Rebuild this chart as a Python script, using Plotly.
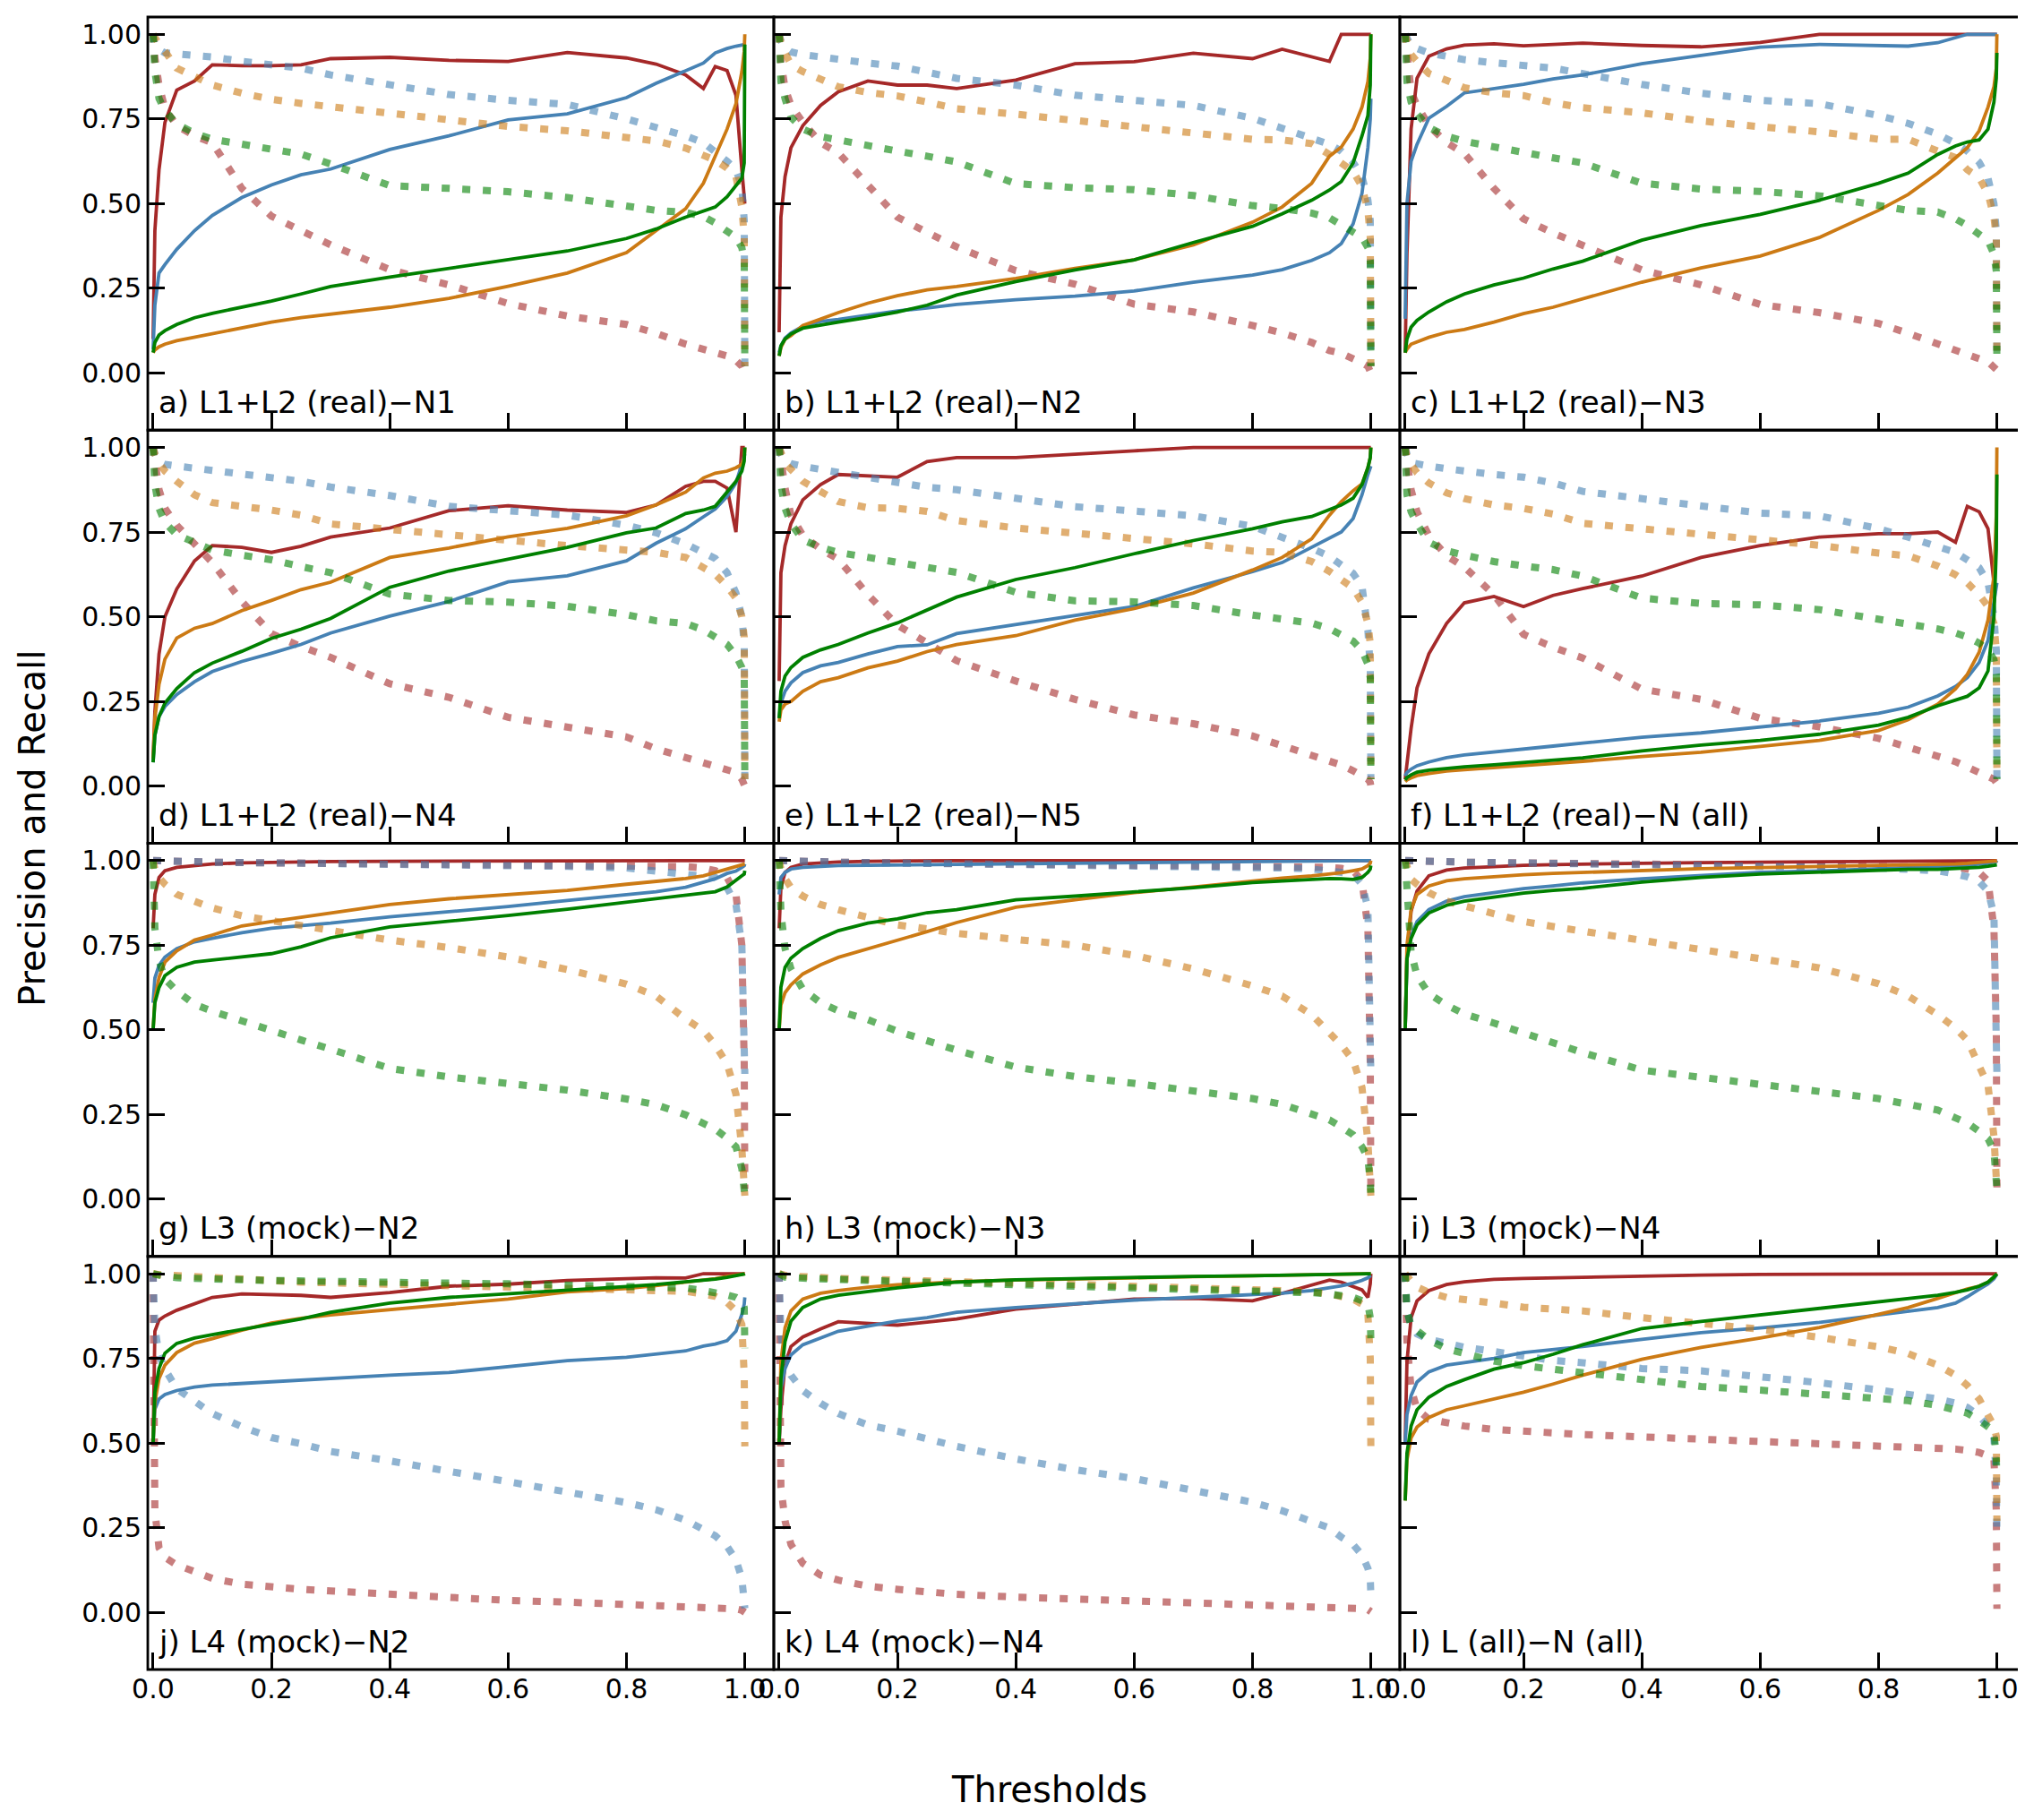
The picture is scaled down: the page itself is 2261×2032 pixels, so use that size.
import plotly.graph_objects as go
from plotly.subplots import make_subplots

thresholds = [0, 0.003, 0.01, 0.02, 0.04, 0.07, 0.1, 0.15, 0.2, 0.25, 0.3, 0.4, 0.5,
              0.6, 0.7, 0.8, 0.85, 0.9, 0.93, 0.95, 0.97, 0.985, 0.995, 0.999, 1.0]

panel_labels = ["a) L1+L2 (real)\u2212N1", "b) L1+L2 (real)\u2212N2", "c) L1+L2 (real)\u2212N3",
                "d) L1+L2 (real)\u2212N4", "e) L1+L2 (real)\u2212N5", "f) L1+L2 (real)\u2212N (all)",
                "g) L3 (mock)\u2212N2", "h) L3 (mock)\u2212N3", "i) L3 (mock)\u2212N4",
                "j) L4 (mock)\u2212N2", "k) L4 (mock)\u2212N4", "l) L (all)\u2212N (all)"]

# precision (solid) and recall (dotted), rows: red, blue, orange, green class
prec_a = [[0.10,0.42,0.60,0.74,0.835,0.862,0.91,0.907,0.907,0.91,0.928,0.932,0.923,0.92,0.946,0.93,0.912,0.88,0.84,0.905,0.893,0.82,0.6,0.52,0.5],
          [0.07,0.2,0.295,0.32,0.365,0.42,0.465,0.518,0.555,0.585,0.602,0.66,0.70,0.747,0.765,0.813,0.855,0.893,0.915,0.945,0.958,0.965,0.97,0.97,0.97],
          [0.06,0.068,0.077,0.085,0.095,0.105,0.116,0.134,0.15,0.163,0.173,0.194,0.22,0.256,0.295,0.355,0.42,0.485,0.56,0.64,0.72,0.795,0.89,0.95,1.0],
          [0.06,0.09,0.112,0.125,0.143,0.163,0.176,0.193,0.212,0.233,0.255,0.283,0.308,0.334,0.36,0.397,0.425,0.46,0.478,0.49,0.52,0.553,0.575,0.62,0.97]]
rec_a = [[1.0,0.93,0.85,0.78,0.73,0.70,0.68,0.545,0.463,0.418,0.378,0.305,0.26,0.205,0.168,0.143,0.117,0.085,0.07,0.06,0.05,0.037,0.02,0.005,0.0],
         [1.0,0.97,0.955,0.945,0.942,0.938,0.933,0.92,0.91,0.9,0.88,0.853,0.822,0.805,0.793,0.75,0.727,0.70,0.68,0.655,0.625,0.6,0.55,0.45,0.02],
         [1.0,0.99,0.97,0.95,0.9,0.875,0.85,0.826,0.808,0.796,0.786,0.767,0.748,0.728,0.715,0.696,0.685,0.664,0.645,0.628,0.605,0.58,0.49,0.4,0.02],
         [1.0,0.89,0.81,0.775,0.735,0.708,0.69,0.677,0.664,0.646,0.617,0.553,0.545,0.535,0.518,0.495,0.48,0.474,0.462,0.443,0.42,0.4,0.37,0.33,0.02]]

prec_b = [[0.12,0.46,0.58,0.665,0.73,0.79,0.83,0.862,0.85,0.85,0.84,0.865,0.913,0.919,0.944,0.928,0.956,0.935,0.92,1.0,1.0,1.0,1.0,1.0,1.0],
          [0.06,0.08,0.103,0.118,0.138,0.152,0.158,0.171,0.183,0.192,0.202,0.216,0.227,0.242,0.268,0.289,0.305,0.332,0.355,0.382,0.44,0.53,0.665,0.75,0.81],
          [0.05,0.075,0.10,0.11,0.14,0.16,0.178,0.206,0.228,0.245,0.255,0.279,0.309,0.334,0.378,0.445,0.49,0.56,0.64,0.667,0.72,0.785,0.86,0.93,1.0],
          [0.05,0.08,0.10,0.115,0.132,0.142,0.15,0.164,0.18,0.2,0.23,0.27,0.304,0.334,0.385,0.433,0.47,0.51,0.54,0.565,0.62,0.7,0.76,0.85,1.0]]
rec_b = [[1.0,0.92,0.84,0.79,0.74,0.68,0.65,0.555,0.46,0.415,0.372,0.302,0.262,0.203,0.18,0.14,0.118,0.09,0.066,0.058,0.045,0.03,0.02,0.01,0.0],
         [1.0,0.98,0.96,0.948,0.94,0.932,0.925,0.915,0.906,0.89,0.87,0.85,0.82,0.805,0.79,0.752,0.722,0.695,0.675,0.655,0.622,0.58,0.51,0.45,0.02],
         [1.0,0.975,0.945,0.91,0.89,0.87,0.845,0.828,0.818,0.8,0.78,0.764,0.745,0.73,0.711,0.69,0.688,0.677,0.645,0.622,0.595,0.55,0.48,0.4,0.02],
         [1.0,0.86,0.81,0.755,0.72,0.698,0.688,0.669,0.655,0.64,0.623,0.559,0.547,0.541,0.524,0.494,0.486,0.472,0.458,0.437,0.415,0.4,0.37,0.33,0.02]]

prec_c = [[0.06,0.35,0.72,0.87,0.935,0.957,0.968,0.972,0.966,0.97,0.974,0.967,0.963,0.976,1.0,1.0,1.0,1.0,1.0,1.0,1.0,1.0,1.0,1.0,1.0],
          [0.16,0.50,0.625,0.675,0.752,0.787,0.827,0.84,0.852,0.868,0.88,0.913,0.938,0.962,0.97,0.967,0.965,0.975,0.99,1.0,1.0,1.0,1.0,1.0,1.0],
          [0.06,0.07,0.085,0.092,0.105,0.12,0.128,0.15,0.175,0.194,0.218,0.268,0.31,0.345,0.4,0.48,0.527,0.59,0.635,0.665,0.715,0.785,0.845,0.9,1.0],
          [0.06,0.1,0.135,0.155,0.18,0.21,0.233,0.26,0.28,0.307,0.33,0.392,0.435,0.468,0.51,0.56,0.59,0.645,0.67,0.682,0.688,0.72,0.8,0.87,0.945]]
rec_c = [[1.0,0.93,0.83,0.79,0.73,0.68,0.648,0.545,0.455,0.413,0.375,0.304,0.26,0.202,0.178,0.146,0.117,0.088,0.066,0.055,0.042,0.033,0.02,0.01,0.0],
         [1.0,0.985,0.965,0.958,0.945,0.935,0.925,0.916,0.91,0.9,0.884,0.852,0.826,0.805,0.795,0.76,0.737,0.705,0.678,0.655,0.622,0.575,0.5,0.42,0.03],
         [1.0,0.98,0.94,0.92,0.884,0.864,0.842,0.827,0.819,0.798,0.783,0.768,0.744,0.727,0.712,0.69,0.69,0.655,0.636,0.6,0.576,0.53,0.46,0.4,0.03],
         [1.0,0.86,0.8,0.765,0.725,0.699,0.684,0.666,0.65,0.635,0.62,0.56,0.543,0.536,0.523,0.494,0.48,0.475,0.455,0.435,0.41,0.39,0.35,0.3,0.02]]

prec_d = [[0.08,0.22,0.39,0.5,0.582,0.665,0.71,0.705,0.69,0.708,0.735,0.762,0.813,0.828,0.815,0.808,0.83,0.885,0.9,0.9,0.88,0.75,1.0,1.0,1.0],
          [0.07,0.15,0.205,0.235,0.27,0.308,0.338,0.368,0.392,0.418,0.452,0.502,0.545,0.603,0.621,0.665,0.717,0.76,0.795,0.818,0.855,0.895,0.95,0.975,0.98],
          [0.08,0.2,0.3,0.375,0.437,0.466,0.48,0.518,0.548,0.58,0.602,0.675,0.703,0.736,0.761,0.798,0.83,0.868,0.91,0.924,0.93,0.94,0.95,0.97,1.0],
          [0.07,0.15,0.205,0.245,0.288,0.335,0.363,0.398,0.436,0.463,0.495,0.587,0.635,0.67,0.705,0.748,0.762,0.805,0.815,0.826,0.868,0.9,0.93,0.96,1.0]]
rec_d = [[1.0,0.95,0.875,0.82,0.77,0.715,0.66,0.545,0.45,0.412,0.38,0.302,0.262,0.203,0.175,0.145,0.11,0.083,0.07,0.058,0.048,0.04,0.02,0.005,0.0],
         [1.0,0.98,0.958,0.95,0.945,0.939,0.932,0.92,0.912,0.9,0.883,0.858,0.826,0.813,0.8,0.77,0.748,0.715,0.692,0.672,0.63,0.57,0.5,0.418,0.02],
         [1.0,0.98,0.955,0.93,0.9,0.86,0.837,0.828,0.815,0.8,0.774,0.758,0.74,0.726,0.71,0.70,0.69,0.675,0.645,0.625,0.59,0.555,0.5,0.44,0.02],
         [1.0,0.89,0.82,0.778,0.742,0.717,0.697,0.682,0.668,0.648,0.63,0.567,0.548,0.543,0.531,0.506,0.488,0.48,0.461,0.44,0.418,0.385,0.35,0.32,0.02]]

prec_e = [[0.31,0.63,0.71,0.775,0.845,0.89,0.92,0.915,0.912,0.958,0.97,0.97,0.981,0.99,1.0,1.0,1.0,1.0,1.0,1.0,1.0,1.0,1.0,1.0,1.0],
          [0.2,0.245,0.28,0.305,0.335,0.355,0.365,0.39,0.412,0.417,0.45,0.477,0.503,0.53,0.585,0.633,0.66,0.705,0.73,0.75,0.79,0.86,0.92,0.94,0.945],
          [0.19,0.225,0.242,0.25,0.28,0.308,0.32,0.349,0.369,0.397,0.418,0.444,0.49,0.524,0.57,0.638,0.675,0.73,0.8,0.84,0.872,0.892,0.94,0.97,1.0],
          [0.2,0.28,0.325,0.35,0.38,0.402,0.418,0.452,0.482,0.52,0.558,0.61,0.645,0.686,0.725,0.76,0.78,0.796,0.815,0.83,0.85,0.89,0.94,0.97,1.0]]
rec_e = [[1.0,0.95,0.88,0.8,0.74,0.70,0.67,0.565,0.475,0.423,0.37,0.31,0.256,0.21,0.184,0.148,0.12,0.095,0.078,0.062,0.045,0.032,0.02,0.01,0.0],
         [1.0,0.98,0.96,0.952,0.944,0.935,0.925,0.915,0.9,0.882,0.875,0.851,0.825,0.812,0.798,0.767,0.735,0.702,0.678,0.656,0.628,0.59,0.46,0.35,0.02],
         [1.0,0.98,0.952,0.935,0.9,0.87,0.84,0.822,0.82,0.811,0.784,0.762,0.744,0.731,0.715,0.694,0.69,0.663,0.634,0.612,0.585,0.542,0.48,0.42,0.02],
         [1.0,0.89,0.82,0.775,0.727,0.705,0.69,0.674,0.661,0.647,0.631,0.572,0.547,0.544,0.533,0.505,0.492,0.481,0.465,0.448,0.428,0.4,0.36,0.32,0.02]]

prec_f = [[0.02,0.07,0.17,0.29,0.39,0.48,0.541,0.56,0.53,0.563,0.583,0.62,0.675,0.71,0.735,0.745,0.745,0.75,0.72,0.826,0.81,0.76,0.6,0.75,0.75],
          [0.03,0.04,0.05,0.06,0.071,0.084,0.092,0.1,0.11,0.118,0.127,0.144,0.157,0.174,0.192,0.215,0.233,0.266,0.294,0.32,0.365,0.43,0.54,0.58,0.6],
          [0.013,0.018,0.024,0.031,0.037,0.044,0.048,0.054,0.06,0.067,0.073,0.087,0.1,0.117,0.135,0.164,0.196,0.242,0.287,0.33,0.395,0.49,0.62,0.8,1.0],
          [0.018,0.025,0.033,0.041,0.047,0.053,0.057,0.063,0.07,0.076,0.083,0.104,0.121,0.135,0.153,0.18,0.203,0.237,0.253,0.265,0.29,0.34,0.5,0.7,0.92]]
rec_f = [[1.0,0.95,0.875,0.81,0.74,0.68,0.647,0.565,0.448,0.41,0.378,0.286,0.256,0.2,0.175,0.141,0.112,0.088,0.072,0.056,0.043,0.031,0.02,0.01,0.0],
         [1.0,0.98,0.955,0.95,0.945,0.937,0.93,0.92,0.912,0.895,0.87,0.849,0.825,0.806,0.798,0.76,0.735,0.708,0.69,0.668,0.645,0.6,0.5,0.4,0.02],
         [1.0,0.97,0.95,0.925,0.895,0.866,0.849,0.83,0.82,0.803,0.776,0.76,0.741,0.728,0.711,0.688,0.68,0.65,0.624,0.6,0.565,0.53,0.48,0.4,0.02],
         [1.0,0.86,0.81,0.775,0.72,0.695,0.682,0.663,0.65,0.639,0.62,0.555,0.539,0.535,0.521,0.494,0.478,0.464,0.452,0.44,0.422,0.4,0.374,0.33,0.02]]

prec_g = [[0.80,0.90,0.95,0.97,0.98,0.986,0.99,0.993,0.995,0.996,0.997,0.998,0.998,0.999,0.999,1.0,1.0,1.0,1.0,1.0,1.0,1.0,1.0,1.0,1.0],
          [0.58,0.653,0.69,0.715,0.74,0.76,0.77,0.787,0.8,0.807,0.815,0.834,0.848,0.864,0.882,0.899,0.908,0.921,0.935,0.946,0.962,0.969,0.98,0.985,0.99],
          [0.5,0.59,0.655,0.7,0.733,0.765,0.78,0.807,0.82,0.833,0.845,0.87,0.887,0.9,0.912,0.93,0.938,0.947,0.955,0.965,0.975,0.98,0.985,0.987,0.99],
          [0.5,0.58,0.625,0.66,0.685,0.70,0.706,0.716,0.725,0.745,0.772,0.804,0.82,0.838,0.856,0.877,0.888,0.899,0.905,0.908,0.922,0.94,0.955,0.96,0.97]]
rec_g = [[1.0,1.0,0.999,0.998,0.997,0.996,0.995,0.994,0.993,0.992,0.991,0.99,0.989,0.988,0.987,0.986,0.985,0.982,0.978,0.97,0.95,0.9,0.75,0.4,0.03],
         [1.0,1.0,0.999,0.998,0.997,0.996,0.995,0.994,0.993,0.992,0.991,0.99,0.989,0.988,0.983,0.978,0.97,0.96,0.958,0.95,0.92,0.87,0.75,0.5,0.37],
         [1.0,0.975,0.95,0.93,0.9,0.88,0.86,0.837,0.822,0.805,0.791,0.765,0.743,0.715,0.678,0.635,0.6,0.532,0.498,0.455,0.4,0.31,0.15,0.05,0.01],
         [1.0,0.80,0.705,0.65,0.615,0.575,0.555,0.525,0.495,0.47,0.443,0.386,0.361,0.344,0.322,0.296,0.279,0.249,0.225,0.207,0.18,0.155,0.09,0.04,0.01]]

prec_h = [[0.80,0.92,0.965,0.98,0.99,0.994,0.996,0.998,0.999,1.0,1.0,1.0,1.0,1.0,1.0,1.0,1.0,1.0,1.0,1.0,1.0,1.0,1.0,1.0,1.0],
          [0.9,0.95,0.965,0.975,0.98,0.983,0.985,0.986,0.987,0.988,0.989,0.99,0.991,0.993,0.995,0.997,0.998,0.999,0.999,1.0,1.0,1.0,1.0,1.0,1.0],
          [0.5,0.573,0.61,0.633,0.665,0.692,0.714,0.739,0.765,0.79,0.817,0.862,0.884,0.905,0.922,0.94,0.948,0.955,0.96,0.964,0.97,0.975,0.985,0.992,1.0],
          [0.5,0.626,0.685,0.712,0.74,0.77,0.793,0.815,0.828,0.846,0.855,0.884,0.895,0.907,0.92,0.935,0.94,0.945,0.947,0.946,0.944,0.95,0.965,0.975,0.985]]
rec_h = [[1.0,1.0,0.999,0.998,0.997,0.996,0.995,0.994,0.993,0.992,0.991,0.99,0.989,0.988,0.987,0.986,0.985,0.983,0.98,0.977,0.97,0.94,0.8,0.4,0.01],
         [1.0,1.0,0.999,0.998,0.997,0.996,0.995,0.994,0.993,0.992,0.991,0.99,0.989,0.988,0.986,0.983,0.978,0.975,0.97,0.965,0.958,0.93,0.86,0.6,0.37],
         [1.0,0.975,0.947,0.92,0.895,0.87,0.855,0.833,0.81,0.798,0.785,0.767,0.75,0.72,0.68,0.63,0.6,0.545,0.495,0.455,0.41,0.33,0.17,0.06,0.01],
         [1.0,0.846,0.74,0.68,0.62,0.58,0.556,0.53,0.496,0.468,0.44,0.39,0.362,0.342,0.322,0.297,0.28,0.252,0.234,0.213,0.19,0.155,0.12,0.05,0.01]]

prec_i = [[0.5,0.72,0.85,0.91,0.955,0.972,0.978,0.983,0.986,0.988,0.99,0.992,0.994,0.995,0.996,0.997,0.998,0.998,0.999,0.999,1.0,1.0,1.0,1.0,1.0],
          [0.5,0.71,0.776,0.82,0.855,0.88,0.893,0.906,0.917,0.925,0.934,0.946,0.955,0.965,0.969,0.977,0.979,0.982,0.984,0.986,0.989,0.992,0.995,0.997,1.0],
          [0.5,0.75,0.855,0.9,0.925,0.94,0.946,0.953,0.958,0.962,0.965,0.972,0.976,0.979,0.982,0.984,0.986,0.988,0.99,0.992,0.994,0.996,0.998,0.999,1.0],
          [0.5,0.71,0.77,0.81,0.845,0.868,0.88,0.893,0.904,0.912,0.918,0.936,0.95,0.96,0.965,0.972,0.974,0.974,0.976,0.978,0.98,0.983,0.985,0.986,0.987]]
rec_i = [[1.0,1.0,0.999,0.998,0.997,0.996,0.995,0.994,0.993,0.992,0.991,0.99,0.989,0.988,0.987,0.986,0.985,0.983,0.98,0.975,0.965,0.94,0.8,0.5,0.03],
         [1.0,1.0,0.999,0.998,0.997,0.996,0.995,0.994,0.993,0.992,0.991,0.99,0.988,0.986,0.983,0.978,0.974,0.97,0.96,0.952,0.938,0.91,0.84,0.6,0.37],
         [1.0,0.98,0.945,0.93,0.905,0.88,0.865,0.843,0.82,0.805,0.792,0.765,0.737,0.714,0.683,0.636,0.6,0.545,0.505,0.47,0.4,0.336,0.186,0.08,0.03],
         [1.0,0.9,0.73,0.66,0.607,0.573,0.547,0.52,0.49,0.463,0.433,0.381,0.359,0.341,0.32,0.297,0.28,0.263,0.24,0.225,0.2,0.178,0.142,0.08,0.03]]

prec_j = [[0.5,0.83,0.863,0.875,0.892,0.911,0.93,0.94,0.939,0.936,0.93,0.944,0.963,0.969,0.98,0.985,0.988,0.987,1.0,1.0,1.0,1.0,1.0,1.0,1.0],
          [0.5,0.6,0.63,0.643,0.655,0.665,0.671,0.676,0.681,0.686,0.69,0.7,0.708,0.725,0.743,0.753,0.762,0.772,0.786,0.792,0.802,0.83,0.88,0.91,0.93],
          [0.5,0.62,0.69,0.73,0.767,0.795,0.808,0.833,0.854,0.868,0.878,0.894,0.908,0.925,0.946,0.956,0.965,0.975,0.98,0.985,0.992,0.995,0.997,0.999,1.0],
          [0.5,0.65,0.72,0.765,0.794,0.81,0.82,0.835,0.85,0.866,0.886,0.913,0.93,0.94,0.951,0.962,0.968,0.975,0.98,0.984,0.989,0.993,0.997,0.999,1.0]]
rec_j = [[1.0,0.3,0.19,0.162,0.14,0.118,0.1,0.083,0.074,0.068,0.063,0.052,0.042,0.035,0.03,0.024,0.021,0.018,0.016,0.014,0.012,0.01,0.006,0.003,0.0],
         [1.0,0.84,0.76,0.718,0.66,0.623,0.587,0.548,0.516,0.498,0.475,0.447,0.418,0.385,0.355,0.324,0.303,0.272,0.245,0.226,0.195,0.155,0.1,0.05,0.012],
         [1.0,0.998,0.997,0.996,0.994,0.99,0.986,0.982,0.978,0.975,0.973,0.969,0.966,0.963,0.96,0.956,0.953,0.948,0.94,0.933,0.915,0.89,0.85,0.7,0.49],
         [1.0,0.998,0.995,0.992,0.988,0.985,0.984,0.982,0.98,0.978,0.977,0.975,0.972,0.97,0.967,0.964,0.962,0.958,0.95,0.945,0.937,0.93,0.92,0.9,0.78]]

prec_k = [[0.5,0.6,0.734,0.785,0.813,0.837,0.858,0.852,0.848,0.857,0.866,0.895,0.91,0.925,0.927,0.92,0.942,0.967,0.981,0.975,0.962,0.952,0.93,0.97,1.0],
          [0.5,0.66,0.72,0.76,0.79,0.81,0.83,0.845,0.86,0.87,0.886,0.9,0.912,0.922,0.93,0.937,0.942,0.95,0.958,0.964,0.972,0.98,0.988,0.992,0.995],
          [0.5,0.74,0.84,0.89,0.925,0.942,0.95,0.96,0.967,0.972,0.976,0.981,0.985,0.988,0.991,0.994,0.995,0.996,0.997,0.998,0.999,1.0,1.0,1.0,1.0],
          [0.5,0.69,0.80,0.86,0.9,0.925,0.936,0.948,0.958,0.967,0.975,0.982,0.986,0.989,0.992,0.994,0.995,0.996,0.997,0.998,0.999,1.0,1.0,1.0,1.0]]
rec_k = [[1.0,0.37,0.27,0.2,0.145,0.11,0.095,0.077,0.068,0.06,0.053,0.045,0.039,0.034,0.03,0.025,0.023,0.02,0.018,0.016,0.014,0.011,0.008,0.004,0.002],
         [1.0,0.82,0.74,0.7,0.655,0.617,0.587,0.553,0.535,0.51,0.49,0.453,0.421,0.395,0.362,0.325,0.3,0.268,0.249,0.222,0.2,0.169,0.13,0.1,0.05],
         [1.0,0.998,0.995,0.993,0.99,0.988,0.986,0.983,0.98,0.978,0.976,0.972,0.968,0.964,0.96,0.955,0.952,0.947,0.94,0.935,0.925,0.91,0.88,0.75,0.48],
         [1.0,0.995,0.99,0.988,0.986,0.984,0.983,0.98,0.977,0.975,0.972,0.967,0.963,0.959,0.954,0.95,0.947,0.944,0.94,0.935,0.93,0.92,0.91,0.87,0.8]]

prec_l = [[0.5,0.74,0.87,0.92,0.95,0.968,0.976,0.983,0.986,0.988,0.99,0.993,0.996,0.998,0.999,1.0,1.0,1.0,1.0,1.0,1.0,1.0,1.0,1.0,1.0],
          [0.5,0.584,0.64,0.68,0.71,0.73,0.737,0.75,0.767,0.776,0.785,0.806,0.826,0.84,0.856,0.878,0.888,0.9,0.913,0.932,0.954,0.97,0.985,0.995,0.998],
          [0.33,0.45,0.515,0.547,0.575,0.598,0.61,0.63,0.65,0.674,0.7,0.747,0.782,0.81,0.841,0.88,0.9,0.927,0.944,0.955,0.963,0.975,0.99,0.998,1.0],
          [0.33,0.47,0.55,0.598,0.635,0.667,0.687,0.718,0.737,0.762,0.79,0.838,0.859,0.878,0.898,0.917,0.926,0.936,0.945,0.952,0.963,0.975,0.99,0.998,1.0]]
rec_l = [[1.0,0.8,0.66,0.6,0.57,0.558,0.55,0.54,0.534,0.529,0.525,0.518,0.512,0.505,0.5,0.492,0.489,0.485,0.482,0.478,0.472,0.462,0.45,0.3,0.01],
         [1.0,0.89,0.845,0.822,0.806,0.792,0.783,0.77,0.755,0.744,0.737,0.72,0.713,0.697,0.678,0.657,0.645,0.63,0.618,0.605,0.58,0.55,0.515,0.4,0.22],
         [1.0,0.99,0.978,0.96,0.945,0.93,0.922,0.913,0.901,0.895,0.89,0.87,0.852,0.836,0.812,0.784,0.764,0.73,0.7,0.67,0.63,0.585,0.55,0.52,0.27],
         [1.0,0.89,0.845,0.832,0.805,0.778,0.765,0.742,0.728,0.718,0.708,0.686,0.667,0.656,0.645,0.632,0.625,0.611,0.598,0.588,0.567,0.55,0.535,0.45,0.4]]

precisions = [prec_a, prec_b, prec_c, prec_d, prec_e, prec_f, prec_g, prec_h, prec_i, prec_j, prec_k, prec_l]
recalls = [rec_a, rec_b, rec_c, rec_d, rec_e, rec_f, rec_g, rec_h, rec_i, rec_j, rec_k, rec_l]

colors = ["#a52a2a", "#4682b4", "#cc7a14", "#008000"]

fig = make_subplots(rows=4, cols=3, horizontal_spacing=0, vertical_spacing=0)

for p in range(12):
    row, col = p // 3 + 1, p % 3 + 1
    suffix = "" if p == 0 else str(p + 1)
    for c in range(4):
        fig.add_trace(go.Scatter(x=thresholds, y=precisions[p][c], mode="lines",
                                 line=dict(color=colors[c], width=3.8),
                                 showlegend=False, hoverinfo="skip"), row=row, col=col)
        fig.add_trace(go.Scatter(x=thresholds, y=recalls[p][c], mode="lines",
                                 line=dict(color=colors[c], width=8, dash="9px,14px"),
                                 opacity=0.6, showlegend=False, hoverinfo="skip"), row=row, col=col)
    fig.add_annotation(text=panel_labels[p], xref="x%s domain" % suffix,
                       yref="y%s domain" % suffix, x=0.015, y=0.068,
                       xanchor="left", yanchor="middle", showarrow=False,
                       font=dict(size=34, color="black"))
    # panel frame, drawn once so shared edges stay thin
    fig.add_shape(type="rect", xref="x%s domain" % suffix, yref="y%s domain" % suffix,
                  x0=0, x1=1, y0=0, y1=1, line=dict(color="black", width=2.8), layer="above")

axis_style = dict(showline=False, ticks="inside", ticklen=19, tickwidth=2.5, tickcolor="black",
                  showgrid=False, zeroline=False, tickfont=dict(size=30, color="black"))

for p in range(12):
    row, col = p // 3 + 1, p % 3 + 1
    fig.update_xaxes(range=[-0.009, 1.049], tickvals=[0, 0.2, 0.4, 0.6, 0.8, 1.0],
                     tickformat=".1f", showticklabels=(row == 4), ticklabelstandoff=1,
                     row=row, col=col, **axis_style)
    fig.update_yaxes(range=[-0.169, 1.051], tickvals=[0, 0.25, 0.5, 0.75, 1.0],
                     tickformat=".2f", showticklabels=(col == 1), ticklabelstandoff=6,
                     row=row, col=col, **axis_style)

fig.add_annotation(text="Thresholds", xref="paper", yref="paper", x=0.480, y=-0.0725,
                   xanchor="center", yanchor="middle", showarrow=False,
                   font=dict(size=40, color="black"))
fig.add_annotation(text="Precision and Recall", xref="paper", yref="paper", x=-0.0615, y=0.509,
                   xanchor="center", yanchor="middle", textangle=-90, showarrow=False,
                   font=dict(size=40, color="black"))

fig.update_layout(width=2261, height=2032, margin=dict(l=157, r=7, t=11, b=176),
                  paper_bgcolor="white", plot_bgcolor="white",
                  font=dict(family="DejaVu Sans", color="black"))

fig.write_html("out.html")
